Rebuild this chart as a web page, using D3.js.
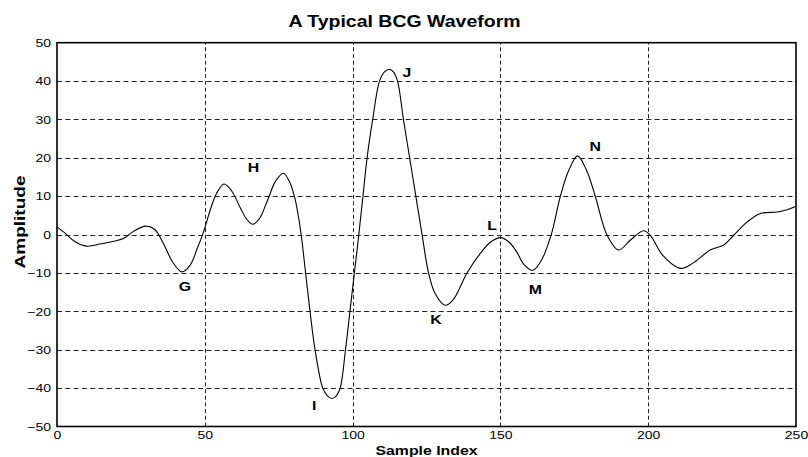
<!DOCTYPE html>
<html>
<head>
<meta charset="utf-8">
<script src="https://cdn.jsdelivr.net/npm/d3@7"></script>
<style>
  html, body { margin: 0; padding: 0; background: #fff; }
  svg { display: block; font-family: "Liberation Sans", Arial, Helvetica, sans-serif; }
</style>
</head>
<body>
<svg id="chart" width="808" height="457"></svg>
<script>
// Sample index and amplitude of the BCG trace
const sampleIndex = [0, 3, 6, 10, 15, 20, 23, 26, 30, 33, 36, 39, 42.2, 45, 47.5, 49.5, 52, 54, 56.5, 59,
  62, 64, 66.2, 68.5, 71, 74, 76.6, 78.5, 80.3, 81.5, 82.6, 84.1, 85.6, 87.3, 89.9, 91.5, 93, 94.5, 95.8, 97.6, 99.1, 100.6, 102.1,
  103.5, 104.9, 106.8, 109.1, 110.8, 112.4, 113.8, 115.2, 117.2, 119.3, 121.4, 123.5, 125.7, 128, 131.3, 134, 138.7, 143.2, 146.6, 150,
  153, 155.5, 158, 161, 164, 167.2, 170.3, 173, 176.1, 179, 182.1, 186, 190, 194, 198.5, 201, 205, 210.9, 215,
  221, 225.6, 229, 233.5, 238, 243.6, 247, 250];
const amplitude = [2.0, 0.2, -1.8, -3.0, -2.4, -1.6, -0.8, 0.9, 2.2, 1.4, -2.3, -7.0, -9.7, -8.0, -3.5, 0.5, 6.8, 10.8, 13.2, 11.5,
  7.0, 4.2, 2.7, 4.2, 8.5, 14.0, 16.0, 14.0, 10.0, 5.5, 0.0, -10, -20, -30, -40, -42.0, -42.7, -42.0, -40, -30, -20, -10, 0,
  10, 20, 30, 40, 42.4, 43.1, 42.4, 40, 30, 20, 10, 0, -10, -15.5, -18.4, -17, -10, -4.9, -2.0, -0.8,
  -2.0, -4.5, -7.8, -9.3, -6.5, 0, 10, 16.5, 20.5, 17, 10, 0, -4.0, -1.4, 1.0, -0.5, -5.5, -8.8, -7.5,
  -4.0, -2.7, -0.1, 3.3, 5.5, 5.9, 6.5, 7.4];

// Wave labels and where they sit (data units)
const waveNames = ["G", "H", "I", "J", "K", "L", "M", "N"];
const waveLabelIndex = [43.3, 66.5, 87, 118.4, 128.2, 147.2, 161.8, 182.1];
const waveLabelAmp = [-13.4, 17.5, -44.4, 42.2, -22.1, 2.4, -14.3, 22.9];

const xTicks = [0, 50, 100, 150, 200, 250];
const yTicks = [-50, -40, -30, -20, -10, 0, 10, 20, 30, 40, 50];

const titleText = "A Typical BCG Waveform";
const xLabel = "Sample Index";
const yLabel = "Amplitude";

const svg = d3.select("#chart");
const m = { left: 57, right: 808 - 796, top: 42.7, bottom: 457 - 426.5 };
const W = 808, H = 457;
const sx = 1.22; // horizontal text stretch

const x = d3.scaleLinear().domain([0, 250]).range([m.left, W - m.right]);
const y = d3.scaleLinear().domain([-50, 50]).range([H - m.bottom, m.top]);

// Grid
const grid = svg.append("g").attr("stroke", "#222").attr("stroke-width", 1).attr("fill", "none");
grid.selectAll("line.h").data(yTicks.slice(1, -1)).join("line")
  .attr("class", "h")
  .attr("x1", x(0)).attr("x2", x(250))
  .attr("y1", d => Math.round(y(d)) + 0.5).attr("y2", d => Math.round(y(d)) + 0.5)
  .attr("stroke-dasharray", "5,3.3");
grid.selectAll("line.v").data(xTicks.slice(1, -1)).join("line")
  .attr("class", "v")
  .attr("y1", y(-50)).attr("y2", y(50))
  .attr("x1", d => Math.round(x(d)) + 0.5).attr("x2", d => Math.round(x(d)) + 0.5)
  .attr("stroke-dasharray", "4,2.7");

// Axes
const xAxis = svg.append("g")
  .attr("transform", `translate(0,${y(-50)})`)
  .call(d3.axisBottom(x).tickValues(xTicks).tickSize(0).tickPadding(4));
const yAxis = svg.append("g")
  .attr("transform", `translate(${x(0)},0)`)
  .call(d3.axisLeft(y).tickValues(yTicks).tickSize(0).tickPadding(4));
[xAxis, yAxis].forEach(a => {
  a.select(".domain").remove();
  a.selectAll("text")
    .attr("font-size", 11.5)
    .attr("font-family", "Liberation Sans, Arial, sans-serif")
    .attr("fill", "#000");
});
xAxis.selectAll(".tick text").attr("transform", `scale(${sx},1)`);
yAxis.selectAll(".tick text").attr("transform", `translate(-1,0) scale(${sx},1)`);

// Plot box
svg.append("rect")
  .attr("x", x(0)).attr("y", y(50))
  .attr("width", x(250) - x(0)).attr("height", y(-50) - y(50))
  .attr("fill", "none").attr("stroke", "#000").attr("stroke-width", 1.6);

// Waveform
const pts = sampleIndex.map((s, i) => [s, amplitude[i]]);
svg.append("path")
  .datum(pts)
  .attr("fill", "none")
  .attr("stroke", "#000")
  .attr("stroke-width", 1.1)
  .attr("d", d3.line().x(d => x(d[0])).y(d => y(d[1])).curve(d3.curveCatmullRom.alpha(0.5)));

// Wave labels
svg.append("g").selectAll("text").data(waveNames).join("text")
  .attr("transform", (d, i) => `translate(${x(waveLabelIndex[i])},${y(waveLabelAmp[i])}) scale(${sx},1)`)
  .attr("text-anchor", "middle")
  .attr("dy", "0.36em")
  .attr("font-size", 13)
  .attr("font-weight", "bold")
  .text(d => d);

// Title and axis labels
svg.append("text")
  .attr("transform", `translate(404.5,26.5) scale(${sx},1)`)
  .attr("text-anchor", "middle")
  .attr("font-size", 16)
  .attr("font-weight", "bold")
  .text(titleText);

svg.append("text")
  .attr("transform", `translate(${(x(0) + x(250)) / 2},455) scale(${sx},1)`)
  .attr("text-anchor", "middle")
  .attr("font-size", 13)
  .attr("font-weight", "bold")
  .text(xLabel);

svg.append("text")
  .attr("transform", `translate(25,222) rotate(-90)`)
  .attr("text-anchor", "middle")
  .attr("font-size", 15)
  .attr("font-weight", "bold")
  .attr("textLength", 93)
  .attr("lengthAdjust", "spacingAndGlyphs")
  .text(yLabel);
</script>
</body>
</html>
